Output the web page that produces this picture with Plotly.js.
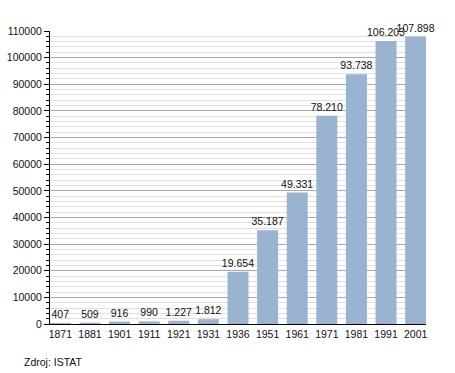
<!DOCTYPE html>
<html>
<head>
<meta charset="utf-8">
<script src="https://cdn.plot.ly/plotly-3.0.1.min.js"></script>
<style>html,body{margin:0;padding:0;background:#fff;}#chart{width:455px;height:373px;}</style>
</head>
<body>
<div id="chart"></div>
<script>
const years = ["1871","1881","1901","1911","1921","1931","1936","1951","1961","1971","1981","1991","2001"];
const population = [407, 509, 916, 990, 1227, 1812, 19654, 35187, 49331, 78210, 93738, 106203, 107898];
const valueLabels = ["407","509","916","990","1.227","1.812","19.654","35.187","49.331","78.210","93.738","106.203","107.898"];
const sourceNote = "Zdroj: ISTAT";

const font = {family: "Liberation Sans, Arial, sans-serif", size: 10.5, color: "#111"};

Plotly.newPlot("chart", [{
  type: "bar",
  x: years,
  y: population,
  text: valueLabels,
  textposition: "outside",
  constraintext: "none",
  cliponaxis: false,
  textfont: font,
  marker: {color: "#9ab3d1"},
  width: 0.71,
  hoverinfo: "none"
}], {
  width: 455, height: 373,
  margin: {l: 50, r: 29, t: 31, b: 49},
  paper_bgcolor: "#fff", plot_bgcolor: "#fff",
  font: font,
  showlegend: false,
  xaxis: {
    type: "category",
    range: [-0.35, 12.35],
    showline: true, linecolor: "#000", linewidth: 1,
    ticks: "", showgrid: false,
    tickfont: font, zeroline: false
  },
  yaxis: {
    range: [0, 110000],
    dtick: 10000, tick0: 0,
    tickformat: "d",
    showline: true, linecolor: "#000", linewidth: 1,
    ticks: "outside", ticklen: 5, tickcolor: "#000",
    showgrid: true, gridcolor: "#a8a8a8", gridwidth: 1,
    zeroline: false,
    tickfont: font,
    minor: {dtick: 2000, showgrid: true, gridcolor: "#e0e0e0", ticks: "outside", ticklen: 3, tickcolor: "#000"}
  },
  annotations: [{
    text: sourceNote, xref: "paper", yref: "paper",
    x: -0.0745, y: -0.13, xanchor: "left", yanchor: "middle",
    showarrow: false, font: font
  }]
}, {staticPlot: true, displayModeBar: false});
</script>
</body>
</html>
